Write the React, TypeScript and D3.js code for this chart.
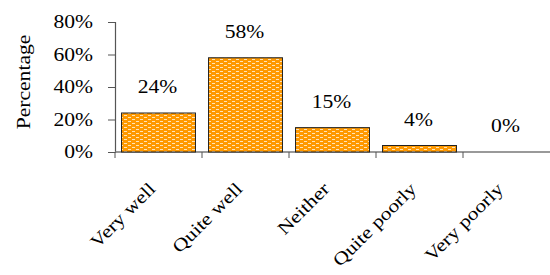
import { useRef, useEffect } from 'react'
import * as d3 from 'd3'

const categories = ['Very well', 'Quite well', 'Neither', 'Quite poorly', 'Very poorly']
const percents = [24, 58, 15, 4, 0]
const yTicks = [0, 20, 40, 60, 80]

const W = 550
const H = 275
const margin = { top: 22, right: 0, bottom: 123, left: 115 }
const font = '"Liberation Serif", "Times New Roman", serif'
const fs = '18px'
const stretch = 'scale(1.2,1)' // the source text is a bit wide

export default function App() {
  const ref = useRef<SVGSVGElement>(null)

  useEffect(() => {
    const svg = d3.select(ref.current)
    svg.selectAll('*').remove()

    const innerW = W - margin.left - margin.right
    const innerH = H - margin.top - margin.bottom

    // dotted orange fill
    const pat = svg.append('defs').append('pattern')
      .attr('id', 'dots')
      .attr('patternUnits', 'userSpaceOnUse')
      .attr('width', 8).attr('height', 4)
    pat.append('rect').attr('width', 8).attr('height', 4).attr('fill', '#ff9900')
    pat.append('rect').attr('x', 1).attr('y', 1).attr('width', 3).attr('height', 1).attr('fill', '#ffe4b8')
    pat.append('rect').attr('x', 5).attr('y', 3).attr('width', 3).attr('height', 1).attr('fill', '#ffe4b8')

    const g = svg.append('g').attr('transform', `translate(${margin.left},${margin.top})`)

    const x = d3.scaleBand().domain(categories).range([0, innerW]).paddingInner(0.15).paddingOuter(0.075)
    const xb = d3.scaleBand().domain(categories).range([0, innerW])
    const y = d3.scaleLinear().domain([0, 80]).range([innerH, 0])

    // y axis
    const ya = g.append('g')
      .call(d3.axisLeft(y).tickValues(yTicks).tickFormat(d => `${d}%`).tickSize(7).tickPadding(14))
    ya.attr('font-family', null).attr('font-size', null)
    ya.select('.domain').attr('stroke', '#555').attr('stroke-width', 1.2)
    ya.selectAll('.tick line').attr('stroke', '#555')
    ya.selectAll('.tick text')
      .attr('fill', '#000')
      .attr('x', 0)
      .attr('transform', `translate(-22,0) ${stretch}`)

    // x axis with ticks at band boundaries
    g.append('line')
      .attr('x1', 0).attr('x2', innerW).attr('y1', innerH).attr('y2', innerH)
      .attr('stroke', '#777').attr('stroke-width', 1.5)
    g.selectAll('.xtick')
      .data(categories)
      .enter()
      .append('line')
      .attr('x1', d => xb(d)!).attr('x2', d => xb(d)!)
      .attr('y1', innerH).attr('y2', innerH + 6)
      .attr('stroke', '#555')

    // bars
    const vals = categories.map((c, i) => ({ c, v: percents[i] }))
    g.selectAll('.bar')
      .data(vals.filter(d => d.v > 0))
      .enter()
      .append('rect')
      .attr('x', d => x(d.c)!)
      .attr('y', d => y(d.v))
      .attr('width', x.bandwidth())
      .attr('height', d => innerH - y(d.v))
      .attr('fill', 'url(#dots)')
      .attr('stroke', '#222')
      .attr('stroke-width', 1)

    // value labels
    g.selectAll('.lbl')
      .data(vals)
      .enter()
      .append('text')
      .attr('transform', d => `translate(${x(d.c)! + x.bandwidth() / 2 - 1},${y(d.v) - 20}) ${stretch}`)
      .attr('text-anchor', 'middle')
      .text(d => `${d.v}%`)

    // category labels
    g.selectAll('.cat')
      .data(categories)
      .enter()
      .append('text')
      .attr('transform', d => `translate(${xb(d)! + xb.bandwidth() / 2 - 2},${innerH + 38}) rotate(-45) ${stretch}`)
      .attr('text-anchor', 'end')
      .text(d => d)

    // y title
    svg.append('text')
      .attr('transform', `translate(30,${margin.top + 60}) rotate(-90) ${stretch}`)
      .attr('text-anchor', 'middle')
      .text('Percentage')
  }, [])

  return (
    <svg ref={ref} width={W} height={H}
      style={{ position: 'absolute', left: 0, top: 0, background: '#fff', fontFamily: font, fontSize: fs }} />
  )
}
